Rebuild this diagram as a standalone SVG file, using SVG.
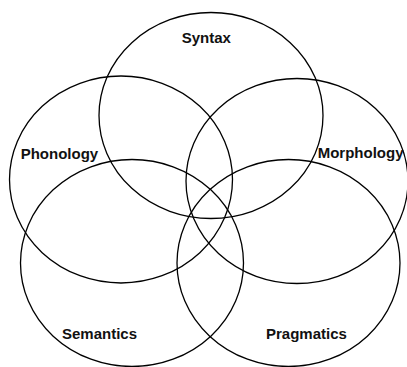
<svg xmlns="http://www.w3.org/2000/svg" width="407" height="367" viewBox="0 0 407 367">
<style>
.c{fill:none;stroke:#000;stroke-width:1.3}
.t{font-family:"Liberation Sans",Arial,sans-serif;font-weight:bold;font-size:15px;fill:#111}
</style>
<rect width="407" height="367" fill="#fff"/>
<g id="syntax"><ellipse class="c" cx="211" cy="115.5" rx="112" ry="103"/><text class="t" x="181.7" y="43">Syntax</text></g>
<g id="phonology"><ellipse class="c" cx="121" cy="179.5" rx="111.5" ry="103.5"/><text class="t" x="20.7" y="159">Phonology</text></g>
<g id="morphology"><ellipse class="c" cx="297" cy="181" rx="111" ry="102.5"/><text class="t" x="317.7" y="158">Morphology</text></g>
<g id="semantics"><ellipse class="c" cx="132" cy="263" rx="111.5" ry="103.5"/><text class="t" x="62" y="338.5">Semantics</text></g>
<g id="pragmatics"><ellipse class="c" cx="288.5" cy="263" rx="111.5" ry="103.5"/><text class="t" x="266" y="338.5">Pragmatics</text></g>
<g id="connectors"></g>
</svg>
